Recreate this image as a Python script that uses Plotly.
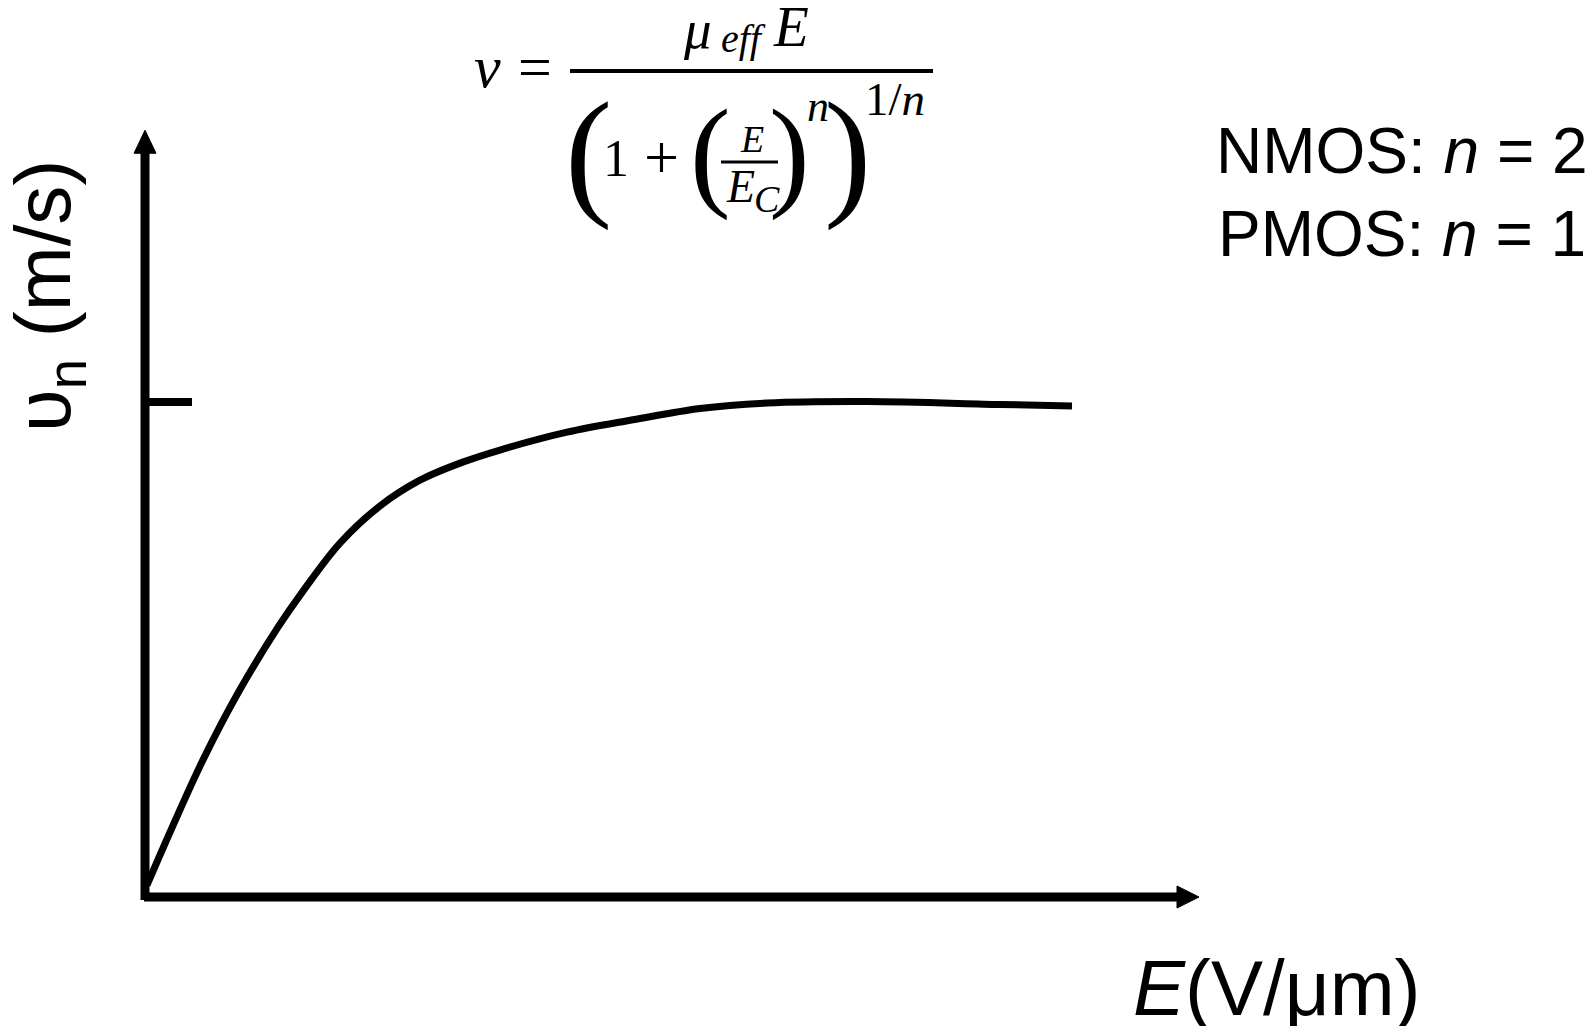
import plotly.graph_objects as go

# ---- data (arbitrary units: E along x, drift velocity along y; saturation = 1) ----
E_field = [0.02, 0.27, 0.58, 0.93, 1.33, 1.58, 1.95, 2.35, 2.75, 3.17, 3.55,
           4.22, 4.88, 5.55, 6.22, 7.22, 8.55, 9.27]
velocity = [0.024, 0.140, 0.277, 0.412, 0.545, 0.618, 0.715, 0.790, 0.842, 0.878, 0.903,
            0.939, 0.964, 0.987, 0.998, 1.001, 0.995, 0.992]
ytick_vals = [1.0]          # saturation velocity tick
x_axis_end = 10.54          # arrow tip of E axis
y_axis_end = 1.549          # arrow tip of v axis

W, H = 1594, 1026
OFF = 8  # page body margin: figure origin sits at page (8, 8)
# pixel mapping of the data space (page pixels of the origin)
X0_PX, Y0_PX = 145 - OFF, 897 - OFF
PX_PER_X, PX_PER_Y = 100.0, 495.0
xr = [-X0_PX / PX_PER_X, (W - X0_PX) / PX_PER_X]
yr = [-(H - Y0_PX) / PX_PER_Y, Y0_PX / PX_PER_Y]

fig = go.Figure()
fig.add_trace(go.Scatter(x=E_field, y=velocity, mode="lines",
                         line=dict(color="black", width=7, shape="spline", smoothing=1.0),
                         hoverinfo="skip", showlegend=False))

AXW = 9
head_len_x = 22 / PX_PER_X
head_half_y = 11 / PX_PER_Y
head_len_y = 23 / PX_PER_Y
head_half_x = 11 / PX_PER_X

shapes = []
# y axis
shapes.append(dict(type="line", xref="x", yref="y", x0=0, x1=0, y0=-0.006,
                   y1=y_axis_end - head_len_y + 0.004, line=dict(color="black", width=AXW)))
shapes.append(dict(type="path", xref="x", yref="y",
                   path=f"M {-head_half_x} {y_axis_end - head_len_y} L 0 {y_axis_end} L {head_half_x} {y_axis_end - head_len_y} Z",
                   fillcolor="black", line=dict(color="black", width=1)))
# x axis
shapes.append(dict(type="line", xref="x", yref="y", x0=-0.01, x1=x_axis_end - head_len_x + 0.02,
                   y0=0, y1=0, line=dict(color="black", width=AXW)))
shapes.append(dict(type="path", xref="x", yref="y",
                   path=f"M {x_axis_end - head_len_x} {-head_half_y} L {x_axis_end} 0 L {x_axis_end - head_len_x} {head_half_y} Z",
                   fillcolor="black", line=dict(color="black", width=1)))
# saturation tick
for tv in ytick_vals:
    shapes.append(dict(type="line", xref="x", yref="y", x0=0, x1=0.47, y0=tv, y1=tv,
                       line=dict(color="black", width=8)))


def P(px, py):
    """page pixel -> paper fraction"""
    return (px - OFF) / W, 1 - (py - OFF) / H


def ann(text, px, py, size, family="Liberation Sans", xanchor="center", angle=0):
    x, y = P(px, py)
    return dict(text=text, x=x, y=y, xref="paper", yref="paper", showarrow=False,
                xanchor=xanchor, yanchor="middle", textangle=angle,
                font=dict(size=size, family=family, color="black"))


SERIF = "Liberation Serif"
anns = [
    ann("<i>v</i>", 487, 67, 60, SERIF),
    ann("=", 535, 67, 60, SERIF),
    ann("<i>μ</i>", 697, 30, 55, SERIF),
    ann("<i>eff</i>", 743, 39, 40, SERIF),
    ann("<i>E</i>", 791, 27, 57, SERIF),
    ann("(", 588, 152, 142, SERIF),
    ann("1", 616, 159, 52, SERIF),
    ann("+", 661, 157, 62, SERIF),
    ann("(", 710, 153, 122, SERIF),
    ann("<i>E</i>", 752, 139, 38, SERIF),
    ann("<i>E</i>", 740, 187, 46, SERIF),
    ann("<i>C</i>", 767, 199, 38, SERIF),
    ann(")", 789, 153, 122, SERIF),
    ann("<i>n</i>", 818, 107, 44, SERIF),
    ann(")", 847, 152, 142, SERIF),
    ann("1/<i>n</i>", 895, 99, 47, SERIF),
    ann("NMOS: <i>n</i> = 2", 1214, 151, 64, xanchor="left"),
    ann("PMOS: <i>n</i> = 1", 1216, 234, 64, xanchor="left"),
    ann("<i>E</i>(V/μm)", 1131, 988, 78, xanchor="left"),
    ann("υ<sub>n</sub> (m/s)", 48, 296, 78, angle=-90),
]


def hbar(x0, x1, y, w):
    a0, b = P(x0, y)
    a1, _ = P(x1, y)
    return dict(type="line", xref="paper", yref="paper", x0=a0, x1=a1, y0=b, y1=b,
                line=dict(color="black", width=w))


# fraction bars
shapes.append(hbar(570, 933, 71, 4))
shapes.append(hbar(721, 778, 162, 3))

fig.update_layout(
    width=W, height=H, margin=dict(l=0, r=0, t=0, b=0, autoexpand=False),
    paper_bgcolor="white", plot_bgcolor="white",
    xaxis=dict(range=xr, visible=False, fixedrange=True),
    yaxis=dict(range=yr, visible=False, fixedrange=True),
    shapes=shapes, annotations=anns, showlegend=False,
)

fig.write_html("out.html")
